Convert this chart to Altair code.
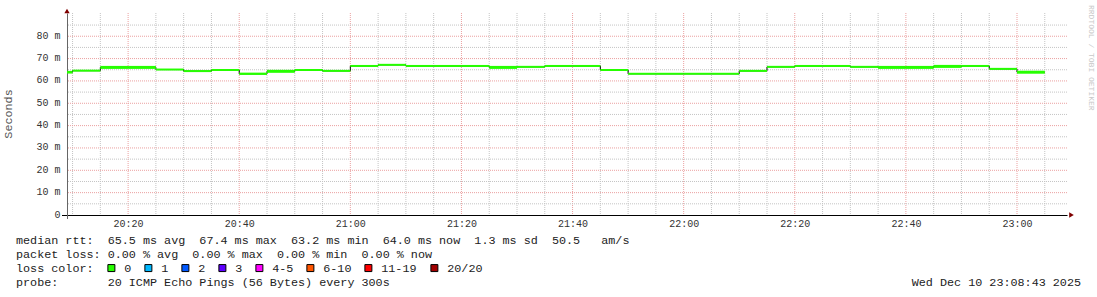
import altair as alt
import pandas as pd

# ---------------- data ----------------
WINDOW = ["20:09", "23:09"]          # visible time window
LAST_END = "23:05"                   # end of last 5-minute step

STEP_START = ["20:05", "20:10", "20:15", "20:20", "20:25", "20:30", "20:35", "20:40",
              "20:45", "20:50", "20:55", "21:00", "21:05", "21:10", "21:15", "21:20",
              "21:25", "21:30", "21:35", "21:40", "21:45", "21:50", "21:55", "22:00",
              "22:05", "22:10", "22:15", "22:20", "22:25", "22:30", "22:35", "22:40",
              "22:45", "22:50", "22:55", "23:00"]
MEDIAN_MS = [63.9, 64.6, 66.05, 66.05, 65.1, 64.4, 64.9, 63.2,
             64.3, 64.9, 64.5, 66.7, 67.2, 66.7, 66.7, 66.7,
             66.05, 66.3, 66.7, 66.7, 64.9, 63.2, 63.2, 63.2,
             63.2, 64.5, 66.3, 66.7, 66.7, 66.3, 66.05, 66.05,
             66.5, 66.7, 65.4, 63.9]
JITTER = [0.7, 0, 1, 1, 0, 0, 0, 0.3,
          1, 0, 0, 0, 0, 0, 0, 0,
          1, 0, 0, 0, 0, 0, 0, 0,
          0, 0, 0, 0, 0, 0, 1, 1,
          1, 0, 0, 1]
LOSS = ["0"] * len(STEP_START)

LOSS_LABELS = ["0", "1", "2", "3", "4-5", "6-10", "11-19", "20/20"]
LOSS_COLORS = ["#26ff00", "#00b8ff", "#0059ff", "#5e00ff", "#ff00ff", "#ff5500", "#ff0000", "#a10000"]

Y_MAX = 90.4
Y_TICKS = [0, 10, 20, 30, 40, 50, 60, 70, 80]
Y_MINOR = [5, 15, 25, 35, 45, 55, 65, 75, 85]
X_MAJOR = ["20:20", "20:40", "21:00", "21:20", "21:40", "22:00", "22:20", "22:40", "23:00"]

LEGEND_ROWS = [
    "median rtt:  65.5 ms avg  67.4 ms max  63.2 ms min  64.0 ms now  1.3 ms sd  50.5   am/s",
    "packet loss: 0.00 % avg  0.00 % max  0.00 % min  0.00 % now",
    "loss color:",
    "probe:       20 ICMP Echo Pings (56 Bytes) every 300s",
]
DATE_TEXT = "Wed Dec 10 23:08:43 2025"
WATERMARK = "RRDTOOL / TOBI OETIKER"
Y_TITLE = "Seconds"

# ---------------- helpers ----------------
def to_min(s):
    h, m = s.split(":")
    return int(h) * 60 + int(m)

def nb(s):
    return s.replace(" ", "\u00a0")

x0, x1 = to_min(WINDOW[0]), to_min(WINDOW[1])
x_major = [to_min(t) for t in X_MAJOR]
x_minor = [m for m in range(x0 - x0 % 5 + 5, x1, 5) if m not in x_major]

W, H = 1000, 202
FONT = "Liberation Mono"
loss_hex = dict(zip(LOSS_LABELS, LOSS_COLORS))

seg = pd.DataFrame({
    "t": [to_min(t) for t in STEP_START],
    "t2": [to_min(t) for t in STEP_START[1:]] + [to_min(LAST_END)],
    "v": MEDIAN_MS,
    "j": JITTER,
    "loss": LOSS,
    "hex": [loss_hex[l] for l in LOSS],
})
line_pts = pd.DataFrame({
    "t": list(seg["t"]) + [to_min(LAST_END)],
    "v": MEDIAN_MS + [MEDIAN_MS[-1]],
})

xs = alt.Scale(domain=[x0, x1], nice=False, zero=False)
ys = alt.Scale(domain=[0, Y_MAX], nice=False)

x_label_expr = "floor(datum.value/60) + ':' + (datum.value % 60 < 10 ? '0' : '') + (datum.value % 60)"
y_label_expr = "datum.value == 0 ? '0\u00a0\u00a0' : datum.value + '\u00a0m'"

X_AXIS = alt.Axis(
    values=x_major, labelExpr=x_label_expr, grid=False, ticks=False,
    domainColor="#000000", domainWidth=1, labelFont=FONT, labelFontSize=10,
    labelColor="#333333", labelPadding=3, title=None)
Y_AXIS = alt.Axis(
    values=Y_TICKS, labelExpr=y_label_expr, grid=False, ticks=False,
    domainColor="#666666", domainWidth=1, labelFont=FONT, labelFontSize=10,
    labelColor="#333333", labelPadding=7, labelOffset=-1, title=None)

def X(field):
    return alt.X(field, scale=xs, axis=X_AXIS)

def Y(field):
    return alt.Y(field, scale=ys, axis=Y_AXIS)

# grids
minor_x = alt.Chart(pd.DataFrame({"t": x_minor})).mark_rule(
    color="#c4c4c4", strokeDash=[1, 1], strokeWidth=1).encode(x=X("t:Q"))
major_x = alt.Chart(pd.DataFrame({"t": x_major})).mark_rule(
    color="#eba0a0", strokeDash=[1, 1], strokeWidth=1).encode(x=X("t:Q"))
minor_y = alt.Chart(pd.DataFrame({"v": Y_MINOR})).mark_rule(
    color="#c4c4c4", strokeDash=[1, 1], strokeWidth=1).encode(y=Y("v:Q"))
major_y = alt.Chart(pd.DataFrame({"v": Y_TICKS[1:]})).mark_rule(
    color="#eba0a0", strokeDash=[1, 1], strokeWidth=1).encode(y=Y("v:Q"))

# short axis extensions past the origin (rrdtool style)
x_ext = alt.Chart(pd.DataFrame({"a": [0]})).mark_rule(color="#000000", strokeWidth=1).encode(
    x=alt.value(-5), x2=alt.value(0), y=alt.value(H + 0.5))
y_ext = alt.Chart(pd.DataFrame({"a": [0]})).mark_rule(color="#666666", strokeWidth=1).encode(
    x=alt.value(0.5), y=alt.value(H), y2=alt.value(H + 4))

# black step connectors
steps = alt.Chart(line_pts).mark_line(
    interpolate="step-after", color="#000000", strokeWidth=1, clip=True
).encode(x=X("t:Q"), y=Y("v:Q"))

# median line, coloured by loss
median = alt.Chart(seg).mark_rule(clip=True).encode(
    x=X("t:Q"),
    x2="t2:Q",
    y=Y("v:Q"),
    stroke=alt.Stroke("hex:N", scale=None),
    strokeWidth=alt.StrokeWidth("j:Q", scale=alt.Scale(domain=[0, 1], range=[2, 3]), legend=None),
)

# invisible layer carrying the loss colour legend
legend_layer = alt.Chart(seg).mark_square(opacity=0, filled=True).encode(
    x=X("t:Q"),
    y=Y("v:Q"),
    fill=alt.Fill("loss:N", scale=alt.Scale(domain=LOSS_LABELS, range=LOSS_COLORS),
                  legend=alt.Legend(
                      title=None, orient="none", legendX=38.5, legendY=249,
                      direction="horizontal", columns=8, symbolType="square",
                      symbolSize=49, symbolStrokeColor="#000000", symbolStrokeWidth=1,
                      symbolOpacity=1, labelFont=FONT, labelFontSize=11.75,
                      labelColor="#222222", labelOffset=7, columnPadding=11, padding=0)),
)

# arrows
arrow_up = alt.Chart(pd.DataFrame({"a": [0]})).mark_point(
    shape="triangle-up", filled=True, color="#7f0000", size=28, opacity=1
).encode(x=alt.value(0), y=alt.value(-2))
arrow_right = alt.Chart(pd.DataFrame({"a": [0]})).mark_point(
    shape="triangle-right", filled=True, color="#7f0000", size=28, opacity=1
).encode(x=alt.value(W + 4.5), y=alt.value(H))

def text_layer(txt, x, y, **kw):
    return alt.Chart(pd.DataFrame({"s": [nb(txt)]})).mark_text(font=FONT, **kw).encode(
        text="s:N", x=alt.value(x), y=alt.value(y))

texts = [
    text_layer(Y_TITLE, -58.7, 101, angle=270, align="center", baseline="middle",
               fontSize=11.75, color="#555555"),
    text_layer(WATERMARK, 1023.5, -8, angle=90, align="left", baseline="middle",
               fontSize=8, color="#c8c8c8"),
    text_layer(DATE_TEXT, 1014, 269, align="right", baseline="middle",
               fontSize=11.75, color="#222222"),
]
for i, row in enumerate(LEGEND_ROWS):
    texts.append(text_layer(row, -51, 227 + 14 * i, align="left", baseline="middle",
                            fontSize=11.75, color="#222222"))

chart = alt.layer(
    minor_x, major_x, minor_y, major_y, x_ext, y_ext, steps, median, legend_layer,
    arrow_up, arrow_right, *texts
).properties(
    width=W, height=H,
    padding={"left": 67, "top": 13, "right": 30, "bottom": 82},
    autosize=alt.AutoSizeParams(type="none"),
    background="#ffffff",
).configure_view(stroke="transparent")

chart.save("out.html", embed_options={"renderer": "svg", "actions": False})
